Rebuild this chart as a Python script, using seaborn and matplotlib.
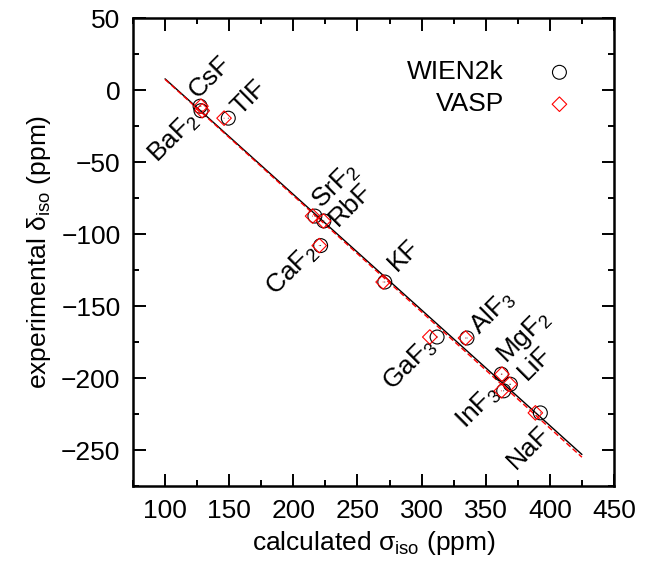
import numpy                as np
import seaborn              as sns
import matplotlib
matplotlib.use("Agg")
import matplotlib.pyplot    as plt
from matplotlib.ticker  import MultipleLocator

# ============================================================ DATA ============================================================

compounds    = ["CsF", "BaF$_2$", "TlF", "SrF$_2$", "RbF", "CaF$_2$", "KF",
                "GaF$_3$", "AlF$_3$", "MgF$_2$", "LiF", "InF$_3$", "NaF"]
# experimental isotropic shift (ppm)
delta_exp    = [-11.2, -14.3, -19.5, -87.5, -90.9, -108.0, -133.3,
                -171.5, -172.2, -197.3, -204.3, -208.9, -224.2]
# calculated isotropic shielding (ppm)
sigma_wien2k = [127.3, 128.0, 149.3, 216.8, 223.8, 221.3, 271.3,
                312.1, 335.4, 362.2, 369.2, 364.0, 392.6]
sigma_vasp   = [128.0, 129.0, 146.0, 215.0, 223.5, 220.2, 270.0,
                306.4, 334.2, 362.7, 368.7, 362.2, 388.7]
fit_range    = [100, 425]

# label offsets in pixels (dx, dy) from the WIEN2k point
label_offsets = [(10, 29), (-27, -27), (21, 21), (21, 30), (27, 16), (-28, -24), (19, 27),
                 (-27, -27), (26, 26), (23, 37), (24, 21), (-25, -16), (-12, -35)]

# ============================================================ STYLE ============================================================

sns.set_style("ticks")
plt.rcParams["font.family"]        = ["Liberation Sans", "DejaVu Sans"]
plt.rcParams["mathtext.fontset"]   = "custom"
plt.rcParams["mathtext.rm"]        = "Liberation Sans"
plt.rcParams["mathtext.it"]        = "Liberation Sans:italic"
plt.rcParams["font.size"]          = 19
for key in ["text.color", "axes.labelcolor", "xtick.color", "ytick.color", "axes.edgecolor"]:
    plt.rcParams[key] = "black"

fig = plt.figure(figsize=(6.5, 5.66), dpi=100)
ax  = fig.add_axes([0.2046, 0.1413, 0.7400, 0.9680 - 0.1413])

# fit lines
x_fit = np.array(fit_range, dtype=float)
k_w, b_w = np.polyfit(sigma_wien2k, delta_exp, 1)
k_v, b_v = np.polyfit(sigma_vasp, delta_exp, 1)
sns.lineplot(x=x_fit, y=k_w * x_fit + b_w, ax=ax, color="black", linewidth=1.0)
sns.lineplot(x=x_fit, y=k_v * x_fit + b_v, ax=ax, color="red", linewidth=1.0, linestyle=(0, (4, 2)))

# points
sns.scatterplot(x=sigma_wien2k, y=delta_exp, ax=ax, marker="o", s=100, facecolor="none",
                edgecolor="black", linewidth=0.8, label="WIEN2k", zorder=3)
sns.scatterplot(x=sigma_vasp, y=delta_exp, ax=ax, marker="D", s=55, facecolor="none",
                edgecolor="red", linewidth=0.8, label="VASP", zorder=4)
sns.scatterplot(x=sigma_wien2k, y=delta_exp, ax=ax, marker=".", s=2, color="black",
                edgecolor="none", legend=False, zorder=5)
sns.scatterplot(x=sigma_vasp, y=delta_exp, ax=ax, marker=".", s=2, color="red",
                edgecolor="none", legend=False, zorder=5)

for name, sx, dy, off in zip(compounds, sigma_wien2k, delta_exp, label_offsets):
    ax.annotate(name, xy=(sx, dy), xytext=off, textcoords="offset pixels",
                rotation=45, ha="center", va="center", fontsize=19)

ax.set_xlim(75, 450)
ax.set_ylim(-275, 50)
ax.xaxis.set_minor_locator(MultipleLocator(25))
ax.yaxis.set_minor_locator(MultipleLocator(25))
ax.set_xticks([100, 150, 200, 250, 300, 350, 400, 450])
ax.set_yticks([-250, -200, -150, -100, -50, 0, 50])
ax.set_yticklabels(["\u2212250", "\u2212200", "\u2212150", "\u2212100", "\u221250", "0", "50"])

ax.tick_params(which="both", direction="in", top=True, right=True, width=1.4, labelsize=19)
ax.tick_params(which="major", length=9, pad=9)
ax.tick_params(which="minor", length=4.3)
for spine in ax.spines.values():
    spine.set_linewidth(1.8)

ax.set_xlabel("calculated \u03c3$_{\\rm iso}$ (ppm)", fontsize=19, labelpad=5)
ax.set_ylabel("experimental \u03b4$_{\\rm iso}$ (ppm)", fontsize=19, labelpad=6)

ax.legend(loc="upper right", bbox_to_anchor=(0.914, 0.91), frameon=False, markerfirst=False,
          handlelength=1.0, handletextpad=1.6, labelspacing=0.3, borderpad=0, borderaxespad=0,
          fontsize=19)

plt.savefig("out.png", dpi=100)
